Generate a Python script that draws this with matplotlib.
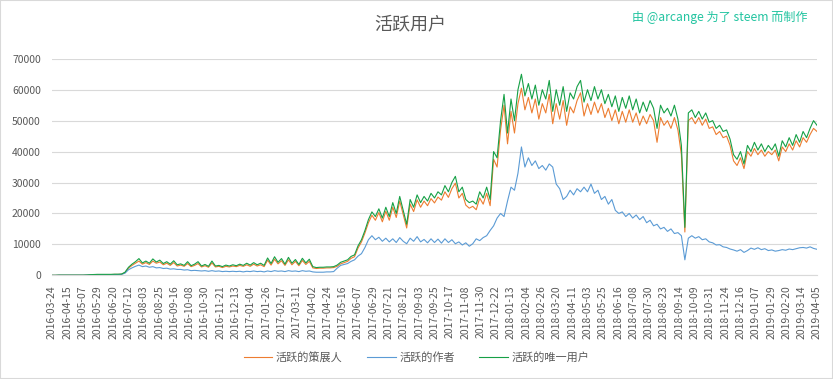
import numpy as np
import matplotlib
matplotlib.use('Agg')
import matplotlib.pyplot as plt
from matplotlib.patches import Rectangle

plt.rcParams['font.family'] = ['Noto Sans CJK SC', 'DejaVu Sans']

# category axis (one point per day, some days missing), sampled every 5 categories
STEP = 5
TICK_EVERY = 22

tick_labels = [
    '2016-03-24', '2016-04-15', '2016-05-07', '2016-05-29', '2016-06-20', '2016-07-12',
    '2016-08-03', '2016-08-25', '2016-09-16', '2016-10-08', '2016-10-30', '2016-11-21',
    '2016-12-13', '2017-01-04', '2017-01-26', '2017-02-17', '2017-03-11', '2017-04-02',
    '2017-04-24', '2017-05-16', '2017-06-07', '2017-06-29', '2017-07-21', '2017-08-12',
    '2017-09-03', '2017-09-25', '2017-10-17', '2017-11-08', '2017-11-30', '2017-12-22',
    '2018-01-13', '2018-02-04', '2018-02-26', '2018-03-20', '2018-04-11', '2018-05-03',
    '2018-05-25', '2018-06-16', '2018-07-08', '2018-07-30', '2018-08-23', '2018-09-14',
    '2018-10-09', '2018-10-31', '2018-11-24', '2018-12-16', '2019-01-07', '2019-01-29',
    '2019-02-20', '2019-03-14', '2019-04-05',
]

# values in thousands
unique_users = [
    0.0, 0.0, 0.05, 0.05, 0.05, 0.05, 0.05, 0.05, 0.05, 0.05, 0.1,
    0.2, 0.25, 0.3, 0.3, 0.3, 0.3, 0.3, 0.35, 0.35, 0.4,
    1.0, 2.6, 3.6, 4.4, 5.4, 4.0, 4.6, 3.9, 5.3, 4.3,
    4.9, 3.8, 4.4, 3.6, 4.7, 3.4, 3.7, 3.2, 4.4, 3.1,
    3.6, 4.4, 3.0, 3.5, 2.9, 4.6, 3.0, 3.2, 2.8, 3.3,
    3.0, 3.4, 3.1, 3.6, 3.2, 3.9, 3.3, 4.1, 3.4, 3.9,
    3.2, 5.6, 3.8, 6.0, 4.2, 5.4, 3.6, 5.8, 3.9, 5.1,
    3.5, 5.5, 4.0, 5.2, 2.8, 2.5, 2.6, 2.6, 2.7, 2.7,
    2.8, 3.3, 4.2, 4.6, 5.0, 6.1, 6.6, 9.5, 11.5, 14.5,
    18.0, 20.5, 19.0, 21.5, 18.5, 22.0, 19.0, 23.5, 20.0, 25.5,
    21.0, 16.5, 24.5, 22.0, 26.0, 23.5, 25.5, 24.0, 26.5, 25.0,
    27.0, 26.0, 29.0, 27.0, 30.0, 32.0, 27.0, 28.5, 24.5, 23.5,
    24.0, 23.0, 27.0, 25.0, 28.5, 24.5, 40.0, 38.0, 50.0, 58.5,
    46.0, 57.0, 50.0, 60.0, 65.0, 58.0, 62.0, 57.0, 61.5, 55.0,
    60.0, 57.0, 63.0, 53.0, 60.0, 55.0, 61.0, 53.0, 59.0, 57.0,
    61.0, 63.0, 56.0, 60.0, 56.5, 61.0, 57.0, 60.0, 55.5, 58.5,
    54.5, 58.0, 53.0, 57.5, 54.0, 58.0, 53.5, 57.0, 52.5, 56.0,
    53.0, 56.5, 54.0, 47.5, 55.0, 52.5, 54.0, 51.5, 55.0, 50.5,
    42.0, 15.5, 52.5, 53.5, 51.0, 53.0, 50.5, 52.5, 49.5, 50.0,
    47.5, 48.5, 46.5, 47.0, 44.0, 39.0, 37.5, 40.0, 36.0, 42.0,
    40.0, 43.0, 40.5, 42.5, 40.0, 42.0, 40.5, 42.5, 38.5, 43.5,
    41.5, 44.5, 42.0, 45.5, 43.0, 46.5, 44.5, 47.5, 50.0, 48.5,
]

curators = [
    0.0, 0.0, 0.05, 0.05, 0.05, 0.05, 0.05, 0.05, 0.05, 0.05, 0.1,
    0.2, 0.2, 0.25, 0.25, 0.25, 0.25, 0.25, 0.3, 0.3, 0.35,
    0.9, 2.3, 3.2, 3.9, 4.6, 3.6, 4.1, 3.5, 4.6, 3.9,
    4.3, 3.4, 3.9, 3.2, 4.1, 3.0, 3.3, 2.9, 3.8, 2.8,
    3.2, 3.8, 2.7, 3.1, 2.6, 4.0, 2.7, 2.9, 2.5, 2.9,
    2.7, 3.0, 2.8, 3.2, 2.9, 3.4, 2.9, 3.6, 3.0, 3.4,
    2.8, 4.9, 3.3, 5.2, 3.7, 4.7, 3.2, 5.0, 3.4, 4.5,
    3.1, 4.8, 3.5, 4.5, 2.4, 2.2, 2.3, 2.3, 2.4, 2.4,
    2.5, 2.9, 3.7, 4.1, 4.5, 5.5, 6.0, 8.8, 10.8, 13.7,
    17.0, 19.4, 17.8, 20.3, 17.3, 20.7, 17.8, 22.0, 18.7, 24.0,
    19.6, 15.3, 23.0, 20.6, 24.4, 22.0, 24.0, 22.5, 24.8, 23.4,
    25.3, 24.3, 27.0, 25.2, 28.0, 29.8, 25.0, 26.5, 22.7, 21.7,
    22.3, 21.2, 25.0, 23.0, 26.5, 22.5, 37.5, 35.0, 47.0, 55.0,
    42.5, 53.0, 46.0, 55.5, 60.5, 53.5, 57.5, 52.5, 57.0, 50.5,
    55.5, 52.5, 58.5, 49.0, 55.5, 50.5, 56.5, 48.5, 54.5, 52.5,
    56.5, 59.0, 51.5, 55.5, 52.0, 56.0, 52.5, 55.5, 51.0, 54.0,
    50.0, 53.5, 49.0, 53.0, 49.5, 53.5, 49.5, 52.5, 48.5, 51.5,
    49.0, 52.0, 50.0, 43.0, 51.0, 48.5, 50.0, 47.5, 51.0, 47.0,
    39.0, 14.0, 50.0, 51.0, 49.0, 51.0, 48.5, 50.5, 47.5, 48.0,
    45.5, 46.5, 44.5, 45.0, 42.0, 37.0, 35.5, 38.0, 34.5, 40.0,
    38.5, 41.0, 39.0, 40.5, 38.5, 40.0, 39.0, 40.5, 37.0, 41.5,
    40.0, 42.5, 40.5, 43.5, 41.5, 44.5, 43.0, 45.5, 47.5, 46.5,
]

authors = [
    0.0, 0.0, 0.05, 0.05, 0.05, 0.05, 0.05, 0.05, 0.05, 0.05, 0.1,
    0.15, 0.2, 0.2, 0.2, 0.2, 0.2, 0.2, 0.25, 0.25, 0.3,
    0.7, 1.8, 2.4, 2.9, 3.3, 2.8, 3.0, 2.6, 2.8, 2.4,
    2.5, 2.2, 2.3, 2.0, 2.1, 1.9, 1.9, 1.7, 1.8, 1.5,
    1.6, 1.5, 1.4, 1.5, 1.3, 1.5, 1.3, 1.4, 1.2, 1.3,
    1.2, 1.3, 1.2, 1.3, 1.1, 1.3, 1.2, 1.4, 1.2, 1.3,
    1.1, 1.4, 1.2, 1.5, 1.3, 1.4, 1.2, 1.5, 1.3, 1.4,
    1.2, 1.5, 1.3, 1.4, 1.1, 1.0, 1.0, 1.0, 1.1, 1.1,
    1.2, 2.3, 3.2, 3.5, 3.8, 4.5, 5.0, 6.2, 7.0, 9.0,
    11.5, 12.8, 11.5, 12.3, 11.0, 12.0, 10.8, 11.8, 10.6, 12.2,
    11.0, 10.2, 12.0, 11.0, 12.5, 10.8, 11.6, 10.5, 11.8, 10.6,
    11.7, 10.4, 11.8, 10.6, 11.5, 10.2, 10.8, 9.8, 10.5, 9.4,
    10.2, 11.8, 11.2, 12.2, 12.8, 14.5, 16.0, 18.5, 20.0, 19.0,
    24.0, 28.5, 27.5, 33.0, 41.5, 35.0, 38.0, 35.5, 37.0, 34.5,
    35.5, 34.0, 36.0, 35.0, 29.5, 28.0, 24.5, 25.5, 27.5, 26.0,
    28.0, 27.0, 28.5, 27.0, 29.5, 26.5, 27.5, 24.5, 25.5, 23.0,
    24.5, 21.0, 20.0, 20.5, 19.0, 20.0, 18.5, 19.5, 18.0, 19.0,
    17.0, 17.8, 16.0, 16.5, 15.0, 15.5, 14.2, 15.0, 13.5, 13.8,
    12.8, 5.0, 12.0, 12.8, 12.0, 12.5, 11.5, 11.8, 10.8, 10.5,
    9.8, 9.9, 9.2, 9.0, 8.5, 8.2, 7.8, 8.3, 7.4, 8.0,
    8.8, 8.4, 8.9, 8.3, 8.6, 8.0, 8.2, 7.8, 8.0, 8.3,
    8.1, 8.5, 8.3, 8.6, 8.9, 9.0, 8.8, 9.2, 8.7, 8.4,
]

series_names = ['活跃的策展人', '活跃的作者', '活跃的唯一用户']
series_colors = ['#ED7D31', '#5B9BD5', '#16A046']

fig = plt.figure(figsize=(8.33, 3.79), dpi=100)
ax = fig.add_axes([52 / 833, 1 - 275.3 / 379, 765 / 833, 216.5 / 379])

x = np.arange(len(unique_users)) * STEP
for name, vals, col in zip(series_names, [curators, authors, unique_users], series_colors):
    ax.plot(x, np.array(vals) * 1000, color=col, lw=0.8, label=name)

ax.set_xlim(0, (len(tick_labels) - 1) * TICK_EVERY)
ax.set_ylim(0, 70000)
ax.set_yticks(np.arange(0, 70001, 10000))
ax.set_xticks(np.arange(len(tick_labels)) * TICK_EVERY)
ax.set_xticklabels(tick_labels, rotation=90)
ax.tick_params(axis='both', length=0, labelsize=7.5, colors='#595959')
ax.tick_params(axis='x', pad=7)
ax.tick_params(axis='y', pad=8)
ax.grid(axis='y', color='#D9D9D9', lw=0.8)
ax.set_axisbelow(True)
for s in ['top', 'right', 'left']:
    ax.spines[s].set_visible(False)
ax.spines['bottom'].set_color('#D9D9D9')

fig.text(0.492, 0.935, '活跃用户', ha='center', va='center', fontsize=13, color='#595959')
fig.text(0.97, 0.955, '由 @arcange 为了 steem 而制作', ha='right', va='center',
         fontsize=8.7, color='#22C4A0')

fig.legend(loc='center', bbox_to_anchor=(0.5, 0.058), ncol=3, frameon=False,
           fontsize=8, labelcolor='#595959', handlelength=2.6, columnspacing=2.2,
           handletextpad=0.3)

fig.patches.append(Rectangle((0, 0), 1, 1, transform=fig.transFigure, fill=False,
                             edgecolor='#D9D9D9', lw=1.5))

fig.savefig('out.png', dpi=100)
